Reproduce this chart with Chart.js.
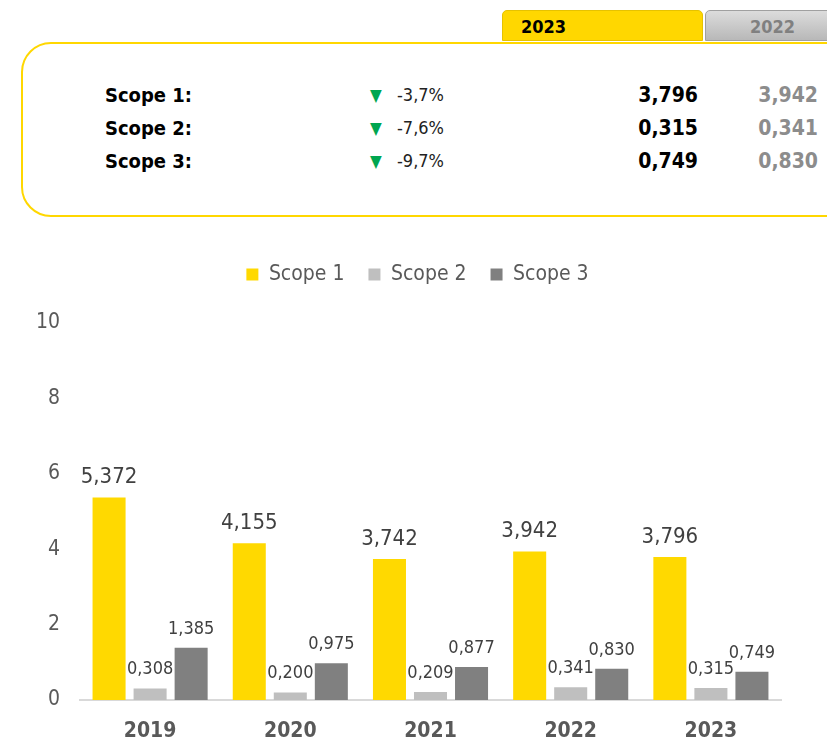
<!DOCTYPE html>
<html>
<head>
<meta charset="utf-8">
<script src="https://cdn.jsdelivr.net/npm/chart.js@4"></script>
<style>
  body { margin: 0; width: 827px; height: 744px; overflow: hidden; background: #fff;
         font-family: "DejaVu Sans Condensed", "Liberation Sans Narrow", sans-serif; }
  .tab { position: absolute; top: 10px; height: 31px; line-height: 31px; font-weight: bold;
         font-size: 18px; border-radius: 5px 5px 0 0; box-sizing: border-box; }
  #tab1 { left: 502px; width: 201px; background: #ffd700; border: 1px solid #e6c200; color: #000; padding-left: 18px; }
  #tab2 { left: 705px; width: 130px; background: linear-gradient(#dcdcdc, #b8b8b8); border: 1px solid #a0a0a0; color: #808080; padding-left: 44px; }
  #box { position: absolute; left: 21px; top: 42px; width: 840px; height: 175px; box-sizing: border-box;
         border: 2px solid #ffd700; border-radius: 30px; }
  .row { position: absolute; left: 0; height: 30px; line-height: 30px; width: 827px; }
  .row span { position: absolute; }
  .lab { left: 105px; font-weight: bold; font-size: 20px; color: #000; }
  .tri { left: 370px; color: #00a650; font-size: 17px; }
  .pct { left: 397px; font-size: 18px; color: #222; }
  .v1 { right: 129px; font-weight: bold; font-size: 21px; color: #000; }
  .v0 { right: 9px; font-weight: bold; font-size: 21px; color: #8c8c8c; }
  #wrap { position: absolute; left: 0; top: 230px; width: 827px; height: 514px; }
</style>
</head>
<body>
<div class="tab" id="tab1">2023</div>
<div class="tab" id="tab2">2022</div>
<div id="box"></div>
<div id="rows"></div>
<div id="wrap"><canvas id="grafico"></canvas></div>
<script>
const anos = ['2019', '2020', '2021', '2022', '2023'];
const scope1 = [5.372, 4.155, 3.742, 3.942, 3.796];
const scope2 = [0.308, 0.200, 0.209, 0.341, 0.315];
const scope3 = [1.385, 0.975, 0.877, 0.830, 0.749];
const resumoNomes = ['Scope 1:', 'Scope 2:', 'Scope 3:'];
const resumoVariacao = ['-3,7%', '-7,6%', '-9,7%'];
const resumoAtual = ['3,796', '0,315', '0,749'];
const resumoAnterior = ['3,942', '0,341', '0,830'];

const rows = document.getElementById('rows');
resumoNomes.forEach((nome, i) => {
  const r = document.createElement('div');
  r.className = 'row';
  r.style.top = (80 + i * 33) + 'px';
  r.innerHTML = '<span class="lab">' + nome + '</span><span class="tri">&#9660;</span>' +
    '<span class="pct">' + resumoVariacao[i] + '</span><span class="v1">' + resumoAtual[i] +
    '</span><span class="v0">' + resumoAnterior[i] + '</span>';
  rows.appendChild(r);
});

const fonte = '"DejaVu Sans Condensed", "Liberation Sans Narrow", sans-serif';

// valores em cima das barras, com virgula
const rotulos = {
  id: 'rotulos',
  afterDatasetsDraw(chart) {
    const ctx = chart.ctx;
    ctx.save();
    ctx.textAlign = 'center';
    ctx.textBaseline = 'alphabetic';
    ctx.fillStyle = '#404040';
    chart.data.datasets.forEach((ds, i) => {
      const meta = chart.getDatasetMeta(i);
      ctx.font = (i === 0 ? '22px ' : '18px ') + fonte;
      meta.data.forEach((bar, j) => {
        const txt = ds.data[j].toFixed(3).replace('.', ',');
        ctx.fillText(txt, bar.x, bar.y - 14);
      });
    });
    ctx.restore();
  }
};

const espacoLegenda = {
  id: 'espacoLegenda',
  beforeInit(chart) {
    const fit = chart.legend.fit;
    chart.legend.fit = function () {
      fit.bind(chart.legend)();
      this.height = 83;
    };
  },
  afterLayout(chart) {
    // legenda um pouco para a direita, como no original
    chart.legend.left += 17;
    chart.legend.right += 17;
  }
};

new Chart(document.getElementById('grafico'), {
  type: 'bar',
  data: {
    labels: anos,
    datasets: [
      { label: 'Scope 1', data: scope1, backgroundColor: '#ffd900' },
      { label: 'Scope 2', data: scope2, backgroundColor: '#bfbfbf' },
      { label: 'Scope 3', data: scope3, backgroundColor: '#808080' }
    ]
  },
  options: {
    responsive: true,
    maintainAspectRatio: false,
    animation: false,
    categoryPercentage: 0.878,
    barPercentage: 0.805,
    layout: { padding: { top: 10, right: 46, left: 20, bottom: 0 } },
    plugins: {
      tooltip: { enabled: false },
      legend: {
        labels: { boxWidth: 12, boxHeight: 12, padding: 24, color: '#595959', font: { family: fonte, size: 21 } }
      }
    },
    scales: {
      x: {
        afterFit(scale) { scale.height = 44; },
        grid: { display: false, drawTicks: false },
        border: { color: '#d9d9d9', width: 2 },
        ticks: { color: '#595959', padding: 19, font: { family: fonte, size: 21, weight: 'bold' } }
      },
      y: {
        afterFit(scale) { scale.width = 60; },
        min: 0,
        max: 10,
        grid: { display: false, drawTicks: false },
        border: { display: false },
        ticks: { stepSize: 2, color: '#595959', padding: 20, font: { family: fonte, size: 21 } }
      }
    }
  },
  plugins: [rotulos, espacoLegenda]
});
</script>
</body>
</html>
